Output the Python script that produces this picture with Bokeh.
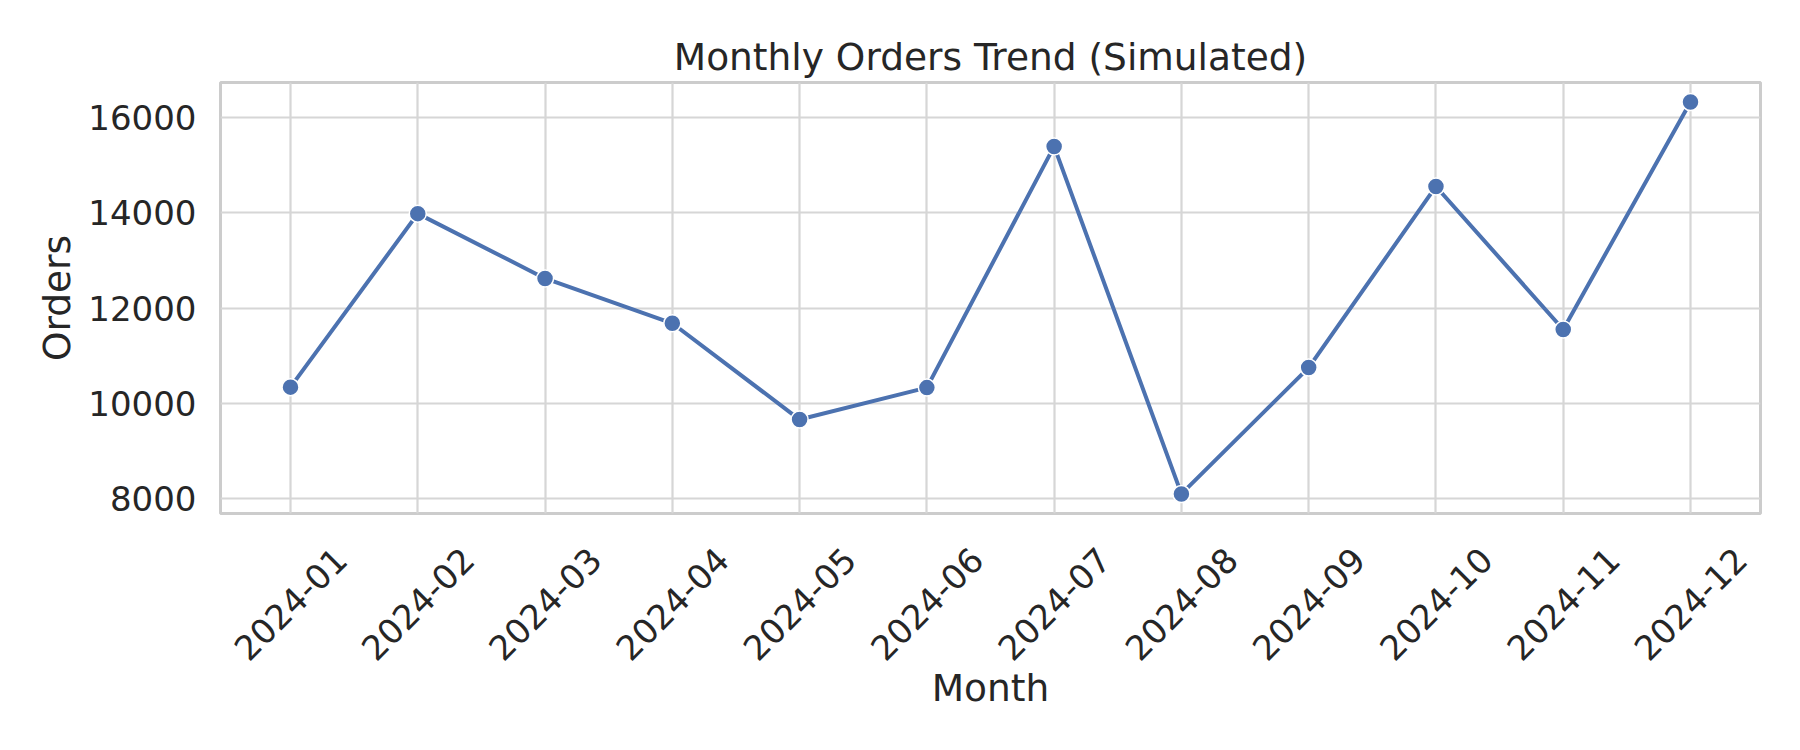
from math import pi
from bokeh.plotting import figure
from bokeh.models import ColumnDataSource, FixedTicker, Range1d, CustomJSTickFormatter
from bokeh.embed import file_html
from bokeh.resources import INLINE

# Datos
months = ["2024-01", "2024-02", "2024-03", "2024-04", "2024-05", "2024-06",
          "2024-07", "2024-08", "2024-09", "2024-10", "2024-11", "2024-12"]
orders = [10340, 13980, 12620, 11680, 9660, 10330,
          15390, 8100, 10750, 14550, 11550, 16320]
y_ticks = [8000, 10000, 12000, 14000, 16000]

FONT = "DejaVu Sans"
TXT = "#262626"
EDGE = "#cccccc"
BLUE = "#4c72b0"

idx = list(range(len(months)))
src = ColumnDataSource(data=dict(x=idx, y=orders, month=months))

# margenes como matplotlib (5%)
pad_x = 0.05 * (len(months) - 1)
pad_y = 0.05 * (max(orders) - min(orders))

p = figure(title="Monthly Orders Trend (Simulated)",
           width=1792, height=738,
           x_range=Range1d(-pad_x, len(months) - 1 + pad_x),
           y_range=Range1d(min(orders) - pad_y, max(orders) + pad_y),
           x_axis_label="Month", y_axis_label="Orders",
           min_border_left=220, min_border_right=32,
           min_border_top=82, min_border_bottom=225,
           output_backend="svg", toolbar_location=None,
           background_fill_color="white", border_fill_color="white")

# Titulo
p.title.align = "center"
p.title.text_font = FONT
p.title.text_font_size = "37.5px"
p.title.text_font_style = "normal"
p.title.text_color = TXT
p.title.standoff = 8

# Marco y rejilla
p.outline_line_color = EDGE
p.outline_line_width = 3
p.xgrid.grid_line_color = "#d6d6d6"
p.ygrid.grid_line_color = "#d6d6d6"
p.xgrid.grid_line_width = 2.2
p.ygrid.grid_line_width = 2.2
p.xgrid.ticker = FixedTicker(ticks=idx)

# Bokeh ancla la etiqueta girada por su extremo derecho: se desplaza la marca
# para que el texto quede centrado bajo cada mes, como en el original
shift = 0.394
p.xaxis.ticker = FixedTicker(ticks=[i + shift for i in idx])
p.xaxis.formatter = CustomJSTickFormatter(
    args=dict(m=months, s=shift), code="return m[Math.round(tick - s)]")
p.xaxis.major_label_orientation = pi / 4
p.yaxis.ticker = FixedTicker(ticks=y_ticks)

for ax in (p.xaxis, p.yaxis):
    ax.axis_line_color = None
    ax.major_tick_line_color = None
    ax.minor_tick_line_color = None
    ax.major_tick_out = 0
    ax.major_tick_in = 0
    ax.axis_label_text_font = FONT
    ax.axis_label_text_font_size = "37.5px"
    ax.axis_label_text_font_style = "normal"
    ax.axis_label_text_color = TXT
    ax.major_label_text_font = FONT
    ax.major_label_text_font_size = "34px"
    ax.major_label_text_color = TXT

p.yaxis.major_label_standoff = 24
p.yaxis.axis_label_standoff = 6
p.xaxis.major_label_standoff = 40
p.xaxis.axis_label_standoff = -9

# Linea + marcadores
p.line("x", "y", source=src, line_color=BLUE, line_width=4)
p.scatter("x", "y", source=src, size=17, fill_color=BLUE,
          line_color="white", line_width=1.5)

open("out.html", "w").write(file_html(p, INLINE))
